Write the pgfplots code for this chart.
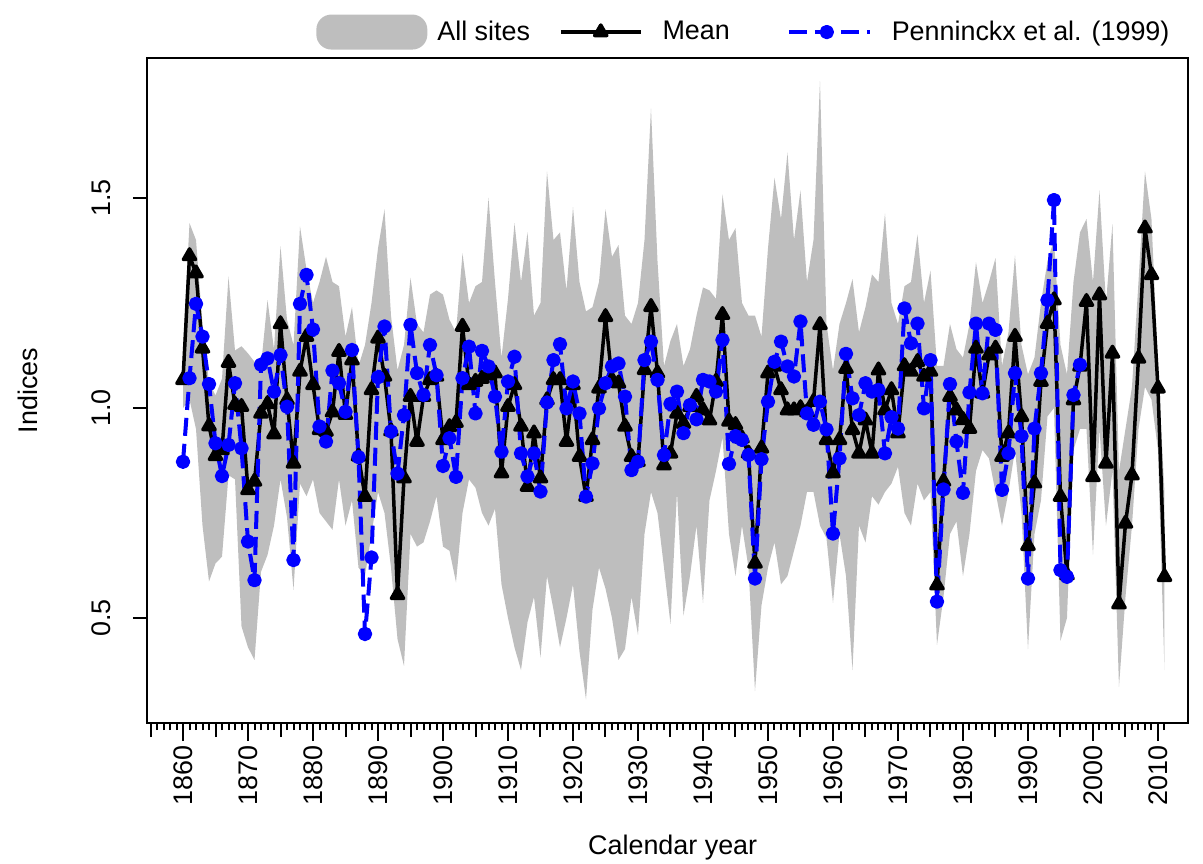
\documentclass[border=0pt]{standalone}
\usepackage{fontspec}
\setmainfont{Liberation Sans}
\usepackage{pgfplots}
\usepackage{pgfplotstable}
\pgfplotsset{compat=1.18}
\usepgfplotslibrary{fillbetween}
\definecolor{bandgray}{RGB}{190,190,190}
\definecolor{rblue}{RGB}{0,0,255}

\pgfplotstableread{
year up lo mean
1860 1.14 1.00 1.067
1861 1.44 1.02 1.362
1862 1.40 0.95 1.321
1863 1.20 0.72 1.142
1864 1.06 0.587 0.957
1865 1.03 0.63 0.886
1866 1.07 0.646 0.900
1867 1.313 0.84 1.108
1868 1.137 0.83 1.008
1869 1.147 0.48 1.003
1870 1.13 0.43 0.805
1871 1.11 0.40 0.825
1872 1.10 0.61 0.987
1873 1.257 0.65 1.010
1874 1.14 0.72 0.938
1875 1.385 0.83 1.200
1876 1.21 0.74 1.019
1877 1.15 0.567 0.868
1878 1.432 0.82 1.087
1879 1.33 0.79 1.170
1880 1.25 0.83 1.055
1881 1.30 0.75 0.948
1882 1.36 0.73 0.944
1883 1.30 0.71 0.990
1884 1.29 0.83 1.134
1885 1.17 0.72 0.984
1886 1.24 0.78 1.114
1887 1.10 0.62 0.885
1888 1.15 0.60 0.789
1889 1.25 0.70 1.043
1890 1.38 0.80 1.166
1891 1.473 0.75 1.075
1892 1.22 0.62 0.945
1893 1.09 0.45 0.555
1894 1.15 0.386 0.833
1895 1.31 0.70 1.027
1896 1.20 0.67 0.920
1897 1.18 0.68 1.027
1898 1.27 0.73 1.067
1899 1.28 0.79 1.075
1900 1.27 0.67 0.924
1901 1.21 0.66 0.955
1902 1.18 0.585 0.965
1903 1.368 0.75 1.194
1904 1.25 0.83 1.055
1905 1.29 0.81 1.063
1906 1.30 0.75 1.070
1907 1.50 0.72 1.078
1908 1.30 0.76 1.083
1909 1.12 0.58 0.845
1910 1.26 0.50 1.003
1911 1.44 0.43 1.055
1912 1.30 0.376 0.956
1913 1.418 0.49 0.813
1914 1.22 0.55 0.940
1915 1.25 0.406 0.833
1916 1.563 0.60 1.019
1917 1.40 0.52 1.067
1918 1.418 0.43 1.067
1919 1.28 0.50 0.920
1920 1.478 0.58 1.055
1921 1.30 0.42 0.884
1922 1.23 0.306 0.789
1923 1.24 0.52 0.924
1924 1.30 0.62 1.047
1925 1.473 0.57 1.217
1926 1.36 0.50 1.067
1927 1.388 0.40 1.059
1928 1.22 0.426 0.956
1929 1.20 0.55 0.884
1930 1.25 0.46 0.872
1931 1.40 0.70 1.091
1932 1.713 0.80 1.241
1933 1.35 0.75 1.083
1934 1.10 0.62 0.864
1935 1.16 0.486 0.892
1936 1.20 0.80 0.987
1937 1.10 0.506 0.963
1938 1.14 0.60 1.003
1939 1.22 0.72 1.027
1940 1.287 0.536 0.995
1941 1.28 0.78 0.971
1942 1.26 0.85 1.063
1943 1.508 0.93 1.222
1944 1.40 0.70 0.968
1945 1.428 0.60 0.960
1946 1.25 0.72 0.928
1947 1.22 0.62 0.892
1948 1.22 0.326 0.630
1949 1.17 0.53 0.904
1950 1.38 0.62 1.083
1951 1.548 0.68 1.099
1952 1.45 0.58 1.043
1953 1.608 0.60 0.995
1954 1.40 0.66 0.995
1955 1.518 0.72 1.000
1956 1.30 0.80 0.990
1957 1.40 0.80 1.015
1958 1.778 0.72 1.198
1959 1.20 0.69 0.924
1960 1.09 0.536 0.845
1961 1.20 0.70 0.924
1962 1.25 0.60 1.094
1963 1.307 0.376 0.948
1964 1.18 0.72 0.892
1965 1.24 0.68 0.971
1966 1.318 0.79 0.892
1967 1.30 0.77 1.090
1968 1.463 0.80 0.995
1969 1.25 0.82 1.043
1970 1.20 0.86 0.940
1971 1.29 0.75 1.100
1972 1.30 0.72 1.087
1973 1.413 0.82 1.110
1974 1.25 0.78 1.075
1975 1.327 0.80 1.087
1976 1.10 0.436 0.578
1977 1.10 0.55 0.825
1978 1.20 0.70 1.027
1979 1.14 0.73 0.995
1980 1.12 0.60 0.972
1981 1.20 0.70 0.951
1982 1.347 0.85 1.142
1983 1.25 0.90 1.035
1984 1.30 0.88 1.126
1985 1.357 0.80 1.142
1986 1.10 0.72 0.884
1987 1.18 0.80 0.940
1988 1.363 0.90 1.170
1989 1.15 0.75 0.979
1990 1.08 0.426 0.672
1991 1.12 0.70 0.821
1992 1.25 0.78 1.063
1993 1.35 0.98 1.201
1994 1.40 1.00 1.257
1995 1.15 0.446 0.789
1996 1.08 0.50 0.602
1997 1.30 0.90 1.019
1998 1.418 0.95 1.099
1999 1.45 0.95 1.253
2000 1.30 0.651 0.836
2001 1.518 0.95 1.269
2002 1.25 0.72 0.868
2003 1.438 0.85 1.130
2004 0.85 0.336 0.533
2005 0.95 0.55 0.725
2006 1.05 0.72 0.840
2007 1.30 0.95 1.118
2008 1.563 1.05 1.428
2009 1.45 1.02 1.317
2010 1.10 0.90 1.047
2011 0.80 0.376 0.598
}\band

\pgfplotstableread{
year p
1860 0.872
1861 1.071
1862 1.248
1863 1.170
1864 1.057
1865 0.916
1866 0.838
1867 0.912
1868 1.059
1869 0.904
1870 0.682
1871 0.590
1872 1.103
1873 1.118
1874 1.039
1875 1.126
1876 1.003
1877 0.638
1878 1.248
1879 1.317
1880 1.187
1881 0.956
1882 0.920
1883 1.089
1884 1.059
1885 0.991
1886 1.138
1887 0.883
1888 0.462
1889 0.644
1890 1.073
1891 1.194
1892 0.944
1893 0.844
1894 0.983
1895 1.198
1896 1.083
1897 1.031
1898 1.150
1899 1.078
1900 0.862
1901 0.928
1902 0.836
1903 1.071
1904 1.146
1905 0.987
1906 1.136
1907 1.099
1908 1.027
1909 0.896
1910 1.063
1911 1.122
1912 0.892
1913 0.837
1914 0.892
1915 0.801
1916 1.013
1917 1.114
1918 1.152
1919 0.999
1920 1.063
1921 0.987
1922 0.789
1923 0.868
1924 0.999
1925 1.059
1926 1.099
1927 1.106
1928 1.027
1929 0.852
1930 0.872
1931 1.114
1932 1.158
1933 1.067
1934 0.888
1935 1.010
1936 1.039
1937 0.940
1938 1.007
1939 0.973
1940 1.067
1941 1.063
1942 1.039
1943 1.162
1944 0.867
1945 0.933
1946 0.924
1947 0.888
1948 0.594
1949 0.878
1950 1.015
1951 1.110
1952 1.158
1953 1.099
1954 1.075
1955 1.206
1956 0.987
1957 0.960
1958 1.015
1959 0.949
1960 0.701
1961 0.880
1962 1.129
1963 1.023
1964 0.983
1965 1.059
1966 1.039
1967 1.043
1968 0.892
1969 0.978
1970 0.951
1971 1.237
1972 1.154
1973 1.201
1974 0.999
1975 1.114
1976 0.539
1977 0.806
1978 1.057
1979 0.920
1980 0.798
1981 1.037
1982 1.201
1983 1.035
1984 1.201
1985 1.186
1986 0.805
1987 0.892
1988 1.083
1989 0.933
1990 0.594
1991 0.951
1992 1.083
1993 1.257
1994 1.495
1995 0.614
1996 0.598
1997 1.031
1998 1.103
}\pen

\begin{document}
\begin{tikzpicture}
\begin{axis}[
  scale only axis,
  width=520.5bp, height=332.5bp,
  xmin=1854.46, xmax=2014.62,
  ymin=0.25, ymax=1.8333,
  axis line style={line width=1bp},
  every tick/.style={black, line width=1bp},
  tick align=outside,
  xtick pos=bottom, ytick pos=left,
  major tick length=7bp,
  minor tick length=3.6bp,
  xtick={1855,1865,...,2005},
  xticklabels={},
  minor xtick={1855,1856,...,2011},
  extra x ticks={1860,1870,...,2010},
  extra x tick labels={1860,1870,1880,1890,1900,1910,1920,1930,1940,1950,1960,1970,1980,1990,2000,2010},
  extra x tick style={major tick length=9bp},
  ytick={0.5,1.0,1.5},
  yticklabels={0.5,1.0,1.5},
  font=\fontsize{13.5}{16}\selectfont,
  xticklabel style={rotate=90, anchor=east, inner sep=0pt, font=\fontsize{13.5}{16}\selectfont},
  yticklabel style={rotate=90, anchor=south, inner sep=0pt, font=\fontsize{13.5}{16}\selectfont},
  xticklabel shift=2bp,
  yticklabel shift=11bp,
  xlabel={Calendar year},
  ylabel={Indices},
  xlabel style={at={(axis description cs:0.505,-0.188)}, anchor=center, font=\fontsize{13.5}{16}\selectfont},
  ylabel style={at={(axis description cs:-0.1143,0.5)}, anchor=center, font=\fontsize{13.5}{16}\selectfont},
  legend style={at={(axis description cs:0.1623,1.039)}, anchor=west, draw=none, fill=none,
    inner sep=0pt, font=\fontsize{13.5}{16}\selectfont, nodes={inner sep=0pt},
    /tikz/every even column/.append style={column sep=0pt}},
  legend columns=-1,
]
\addplot[draw=none, name path=U, forget plot] table[x=year, y=up] {\band};
\addplot[draw=none, name path=L, forget plot] table[x=year, y=lo] {\band};
\addplot[fill=bandgray, draw=none,
  legend image code/.code={\fill[bandgray, rounded corners=7.5bp] (0bp,-8.75bp) rectangle (55.5bp,8.75bp); \path (60.5bp,0bp);}]
  fill between[of=U and L];
\addlegendentry{All sites}
\addplot[black, line width=1.75bp, line join=round, mark=triangle*, mark size=3.5bp, mark options={solid, fill=black},
  legend image code/.code={\path (-14.5bp,0bp); \draw[mark repeat=2, mark phase=2] plot coordinates {(0bp,0bp) (20bp,0bp) (40bp,0bp)}; \path (50bp,0bp);}]
  table[x=year, y=mean] {\band};
\addlegendentry{Mean}
\addplot[rblue, line width=2bp, line join=round, dash pattern=on 9bp off 4bp, mark=*, mark size=2.6bp, mark options={solid, fill=rblue},
  legend image code/.code={\path (-28.5bp,0bp); \draw[mark repeat=2, mark phase=2] plot coordinates {(0bp,0bp) (19bp,0bp) (40.5bp,0bp)}; \path (50.5bp,0bp);}]
  table[x=year, y=p] {\pen};
\addlegendentry{Penninckx et al. (1999)}
\end{axis}
\pgfresetboundingbox
\path[use as bounding box] (-73.5bp,-70.5bp) rectangle (528bp,361.5bp);
\end{tikzpicture}
\end{document}
